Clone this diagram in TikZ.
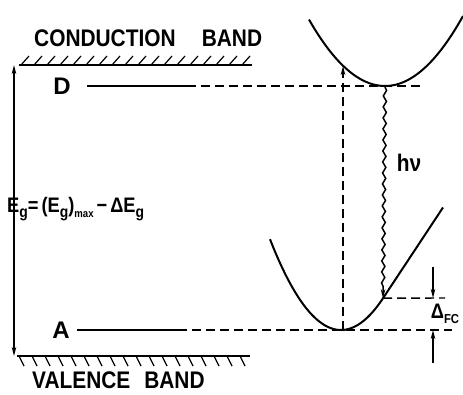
\documentclass[tikz,border=0pt]{standalone}
\usepackage{fontspec}
\usepackage{graphicx}
\setmainfont{Liberation Sans}
\usetikzlibrary{arrows.meta,decorations.pathmorphing}
\newcommand{\lowtext}[2][12]{\raisebox{-0.45ex}{\fontsize{#1}{#1}\selectfont #2}}
\newcommand{\narrow}[1]{\scalebox{0.87}[1]{#1}}
\begin{document}
\begin{tikzpicture}[x=1pt,y=-1pt,
  band/.style={line width=1.9pt},
  hatch/.style={line width=1.2pt},
  curve/.style={line width=2pt},
  lev/.style={line width=1.5pt},
  dashline/.style={line width=1.4pt, dash pattern=on 9pt off 5pt},
  tip/.style={-{Stealth[length=9pt,width=4.5pt]}},
  lbl/.style={font=\bfseries\fontsize{24}{24}\selectfont, inner sep=0pt}
]
\useasboundingbox (0,0) rectangle (463,394);
% band labels
\node[lbl, anchor=west] (cbtext) at (34,38) {\narrow{CONDUCTION\hspace{30pt}BAND}};
\node[lbl, anchor=west] (vbtext) at (32,380) {\narrow{VALENCE\hspace{16pt}BAND}};
% conduction band edge
\coordinate (cbL) at (19,65); \coordinate (cbR) at (252,65);
\draw[band] (cbL) -- (cbR);
\foreach \x in {21,34,...,243} \draw[hatch] (\x,65) -- ++(8,-9);
% valence band edge
\coordinate (vbL) at (17,356); \coordinate (vbR) at (250,356);
\draw[band] (vbL) -- (vbR);
\foreach \x in {19,32,...,243} \draw[hatch] (\x,356) -- ++(5,10);
% Eg arrow
\coordinate (egT) at (14,65); \coordinate (egB) at (14,356);
\draw[lev, {Stealth[length=9pt,width=4.5pt]}-{Stealth[length=9pt,width=4.5pt]}] (egT) -- (egB);
\node[lbl, anchor=west, font=\bfseries\fontsize{21}{21}\selectfont] (eq) at (7,209)
  {\narrow{E\lowtext[16]{g}=\,(E\lowtext[16]{g})\lowtext[11]{max}\,−\,ΔE\lowtext[16]{g}}};
% D level
\node[lbl] (D) at (62,86) {D};
\coordinate (Dst) at (87,86); \coordinate (Dmid) at (187,86); \coordinate (Dfar) at (423,86);
\draw[lev] (Dst) -- (Dmid);
\draw[dashline] (Dmid) -- (Dfar);
% A level
\node[lbl] (A) at (61,330) {A};
\coordinate (Ast) at (77,330); \coordinate (Amid) at (178,330); \coordinate (Afar) at (452,330);
\draw[lev] (Ast) -- (Amid);
\draw[dashline] (Amid) -- (Afar);
% conduction band parabola
\draw[curve] plot[domain=-76:78, samples=80, smooth] ({385+\x},{86-0.0115*\x*\x});
% valence band curve
\coordinate (vkink) at (383,298.2);
\coordinate (vtop) at (443,207.5);
\draw[curve] plot[domain=-71:42, samples=80, smooth] ({341+\x},{330-0.018*\x*\x}) -- (vtop);
% absorption arrow
\coordinate (absB) at (343,330); \coordinate (absT) at (343,66);
\draw[dashline, tip] (absB) -- (absT);
% emission
\coordinate (emT) at (385,87);
\draw[lev, tip, decorate, decoration={snake, amplitude=1.6pt, segment length=11pt, post length=10pt}] (emT) -- (vkink);
\node[lbl] (hv) at (409,163) {\narrow{hν}};
% Delta FC
\coordinate (fcL) at (445,298);
\draw[dashline] (vkink) -- (fcL);
\coordinate (d1T) at (433,267); \coordinate (d1B) at (433,298);
\coordinate (d2B) at (433,363); \coordinate (d2T) at (433,330);
\draw[lev, tip] (d1T) -- (d1B);
\draw[lev, tip] (d2B) -- (d2T);
\node[lbl, font=\bfseries\fontsize{21}{21}\selectfont] (fc) at (445,314) {\narrow{Δ\lowtext[13]{FC}}};
\end{tikzpicture}
\end{document}
